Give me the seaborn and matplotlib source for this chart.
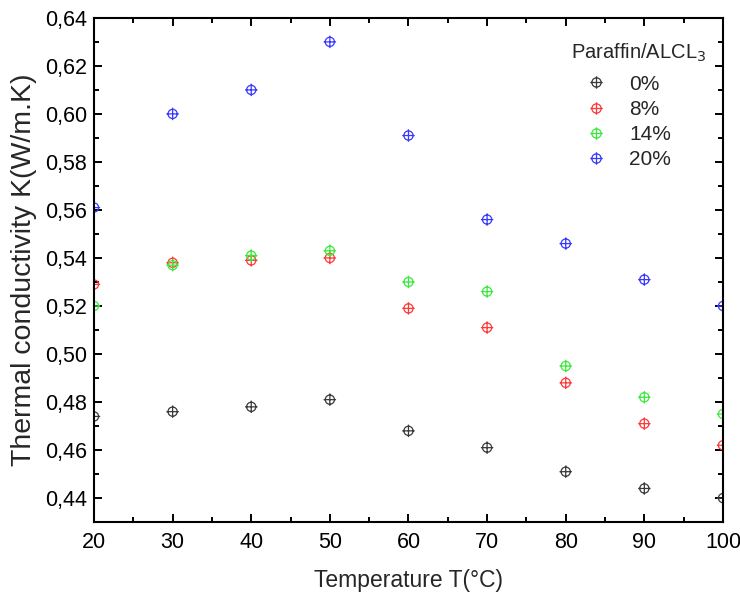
import numpy as np
import pandas as pd
import matplotlib
matplotlib.use("Agg")
import matplotlib.pyplot as plt
import seaborn as sns
from matplotlib.path import Path
from matplotlib.lines import Line2D
from matplotlib.ticker import MultipleLocator, FuncFormatter

# data
temperature = [20, 30, 40, 50, 60, 70, 80, 90, 100]
k_0 = [0.474, 0.476, 0.478, 0.481, 0.468, 0.461, 0.451, 0.444, 0.440]
k_8 = [0.529, 0.538, 0.539, 0.540, 0.519, 0.511, 0.488, 0.471, 0.462]
k_14 = [0.520, 0.537, 0.541, 0.543, 0.530, 0.526, 0.495, 0.482, 0.475]
k_20 = [0.561, 0.600, 0.610, 0.630, 0.591, 0.556, 0.546, 0.531, 0.520]
series_labels = ['0%', '8%', '14%', '20%']
colors = ['#3a3a3a', '#ff3838', '#3ce83c', '#3838ff']

rows = []
for lab, vals in zip(series_labels, [k_0, k_8, k_14, k_20]):
    for t, v in zip(temperature, vals):
        rows.append({'T': t, 'K': v, 'ratio': lab})
df = pd.DataFrame(rows)

sns.set_style('ticks')
plt.rcParams['font.family'] = ['Liberation Sans', 'DejaVu Sans']

# circle with a cross through it (Origin style)
circ = Path.unit_circle()
hline = Path([(-1.35, 0), (1.35, 0)], [Path.MOVETO, Path.LINETO])
vline = Path([(0, -1.35), (0, 1.35)], [Path.MOVETO, Path.LINETO])
oplus = Path.make_compound_path(circ, hline, vline)

fig = plt.figure(figsize=(7.4, 5.96), dpi=100)
ax = fig.add_axes([0.127, 0.124, 0.850, 0.846])

sns.scatterplot(data=df, x='T', y='K', hue='ratio', palette=colors,
                hue_order=series_labels, marker=oplus, s=80, linewidth=0.9,
                legend=False, ax=ax)
coll = ax.collections[0]
fc = coll.get_facecolors()
coll.set_edgecolors(fc)
coll.set_facecolors('none')

ax.set_xlim(20, 100)
ax.set_ylim(0.43, 0.64)
ax.xaxis.set_major_locator(MultipleLocator(10))
ax.xaxis.set_minor_locator(MultipleLocator(5))
ax.yaxis.set_major_locator(MultipleLocator(0.02))
ax.yaxis.set_minor_locator(MultipleLocator(0.01))
ax.yaxis.set_major_formatter(FuncFormatter(lambda v, p: f"{v:.2f}".replace('.', ',')))

ax.tick_params(which='both', direction='in', top=True, right=True, width=1.4,
               labelsize=15.5, colors='black')
ax.tick_params(which='major', length=6)
ax.tick_params(axis='x', which='major', pad=7)
ax.tick_params(axis='y', which='major', pad=5)
ax.tick_params(which='minor', length=3.5)
for sp in ax.spines.values():
    sp.set_linewidth(1.5)
    sp.set_color('black')

ax.set_xlabel('Temperature T(°C)', fontsize=16.5, labelpad=12)
ax.set_ylabel('Thermal conductivity K(W/m.K)', fontsize=20.5, labelpad=6)

handles = [Line2D([], [], linestyle='none', marker=oplus, markersize=9,
                  markerfacecolor='none', markeredgecolor=c, markeredgewidth=0.9)
           for c in colors]
leg = ax.legend(handles, series_labels, title='Paraffin/ALCL$_3$', loc='upper left',
                bbox_to_anchor=(0.742, 0.973), frameon=False, fontsize=15,
                title_fontsize=14.5, borderpad=0, handlelength=2.4,
                handletextpad=0.4, labelspacing=0.3)
leg._legend_box.align = 'left'
leg._legend_box.sep = 0.3 * 15 + 3  # bit more room under the title

fig.savefig('out.png', dpi=100)
